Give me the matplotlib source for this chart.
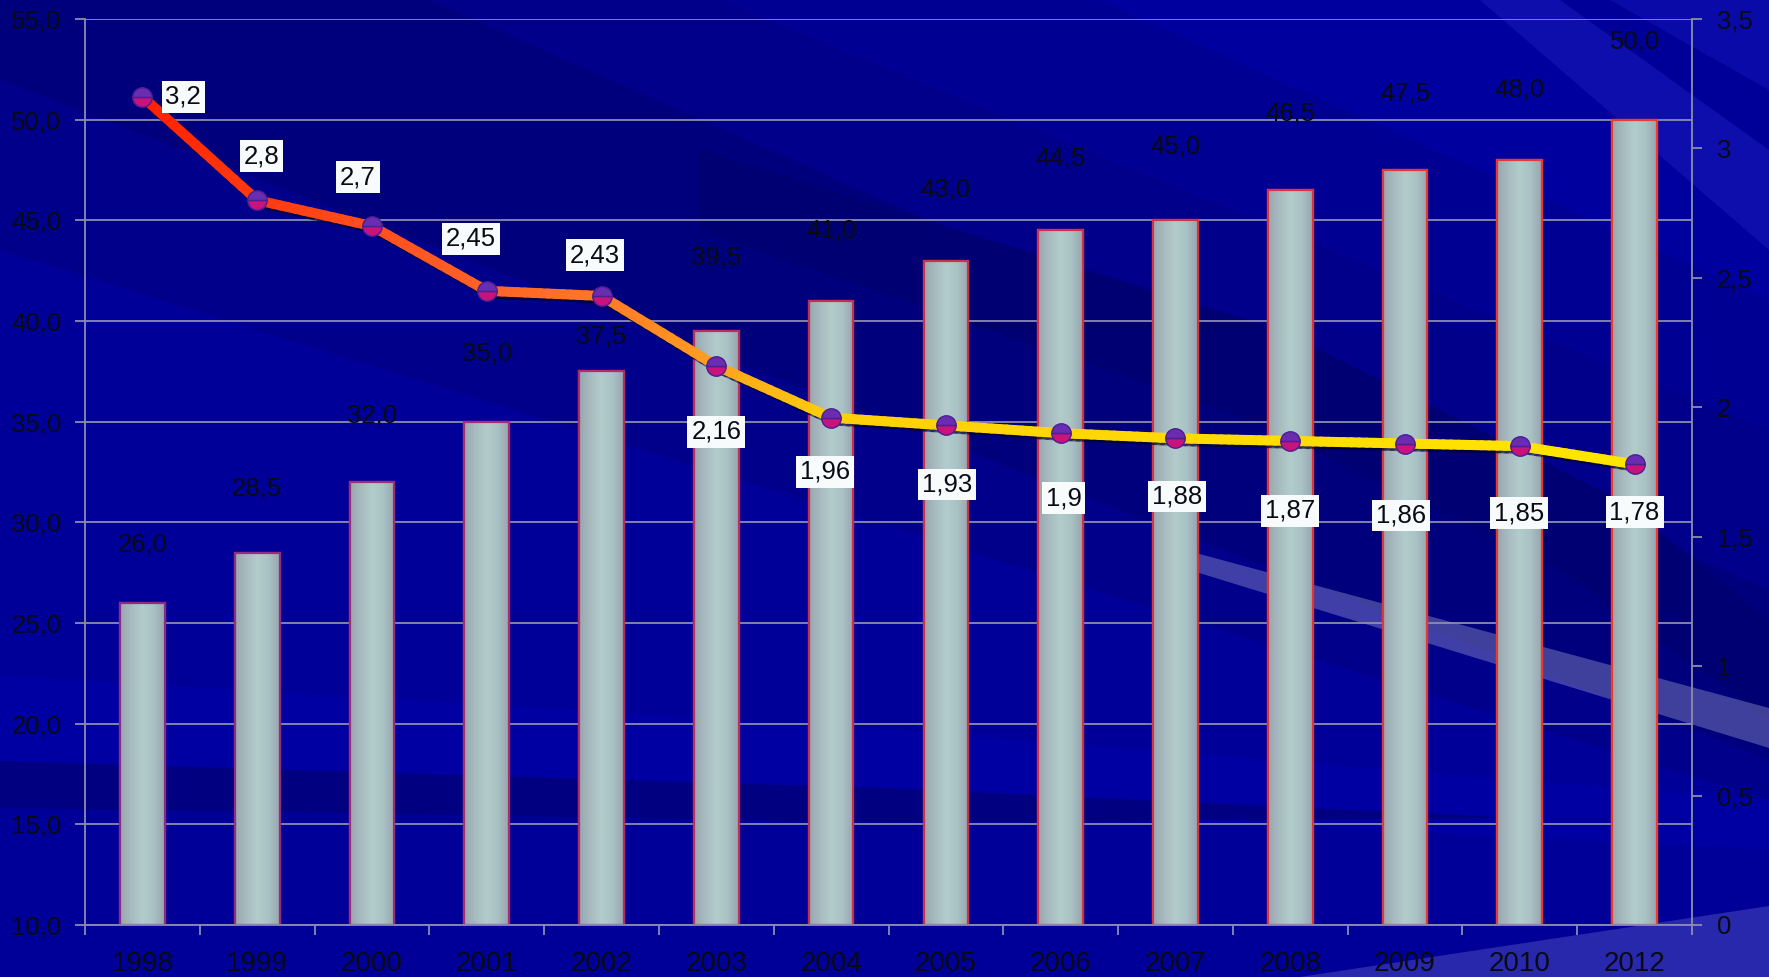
import numpy as np
import matplotlib
matplotlib.use("Agg")
import matplotlib.pyplot as plt
from matplotlib.patches import Polygon, Rectangle
from matplotlib.collections import LineCollection
from matplotlib.colors import LinearSegmentedColormap
import matplotlib.patheffects as pe

plt.rcParams['font.family'] = ['Liberation Sans', 'DejaVu Sans']

# ---------------- data ----------------
years = ['1998', '1999', '2000', '2001', '2002', '2003', '2004',
         '2005', '2006', '2007', '2008', '2009', '2010', '2012']
bar_values = [26.0, 28.5, 32.0, 35.0, 37.5, 39.5, 41.0,
              43.0, 44.5, 45.0, 46.5, 47.5, 48.0, 50.0]
line_values = [3.2, 2.8, 2.7, 2.45, 2.43, 2.16, 1.96,
               1.93, 1.9, 1.88, 1.87, 1.86, 1.85, 1.78]
left_ticks = [10, 15, 20, 25, 30, 35, 40, 45, 50, 55]
right_ticks = [0, 0.5, 1, 1.5, 2, 2.5, 3, 3.5]

# ---------------- layout / style ----------------
bar_label_dy = [42, 46, 48, 49, 25, 53, 51, 51, 52, 53, 55, 55, 51, 56]   # points
line_label_dx = [29.5, 3, -10, -11.5, -5, 0, -4.3, 0.7, 2, 1.4, 0, -3, -0.7, 0]
line_label_dy = [0, 31.7, 35.3, 37.4, 29.5, -47.5, -38.9, -42.5, -46.8,
                 -41.8, -50.4, -51.8, -48.2, -34.6]

TXT = '#0a0a14'
GRID = '#8c8cae'
FS = 18.5

W, H = 1769, 977
fig = plt.figure(figsize=(W / 100, H / 100), dpi=100)
fig.patch.set_facecolor('#000098')

# ---------------- background swooshes ----------------
bg = fig.add_axes([0, 0, 1, 1], zorder=-10)
bg.set_xlim(0, W)
bg.set_ylim(H, 0)
bg.axis('off')
bg.add_patch(Rectangle((0, 0), W, H, color='#000098'))
polys = [
    ([(0, 0), (430, 0), (1769, 590), (1769, 760), (0, 80)], '#00007c', 1),
    ([(0, 80), (1769, 760), (1769, 800), (0, 250)], '#00008a', 1),
    ([(430, 0), (720, 0), (1769, 430), (1769, 590)], '#00008a', 1),
    ([(720, 0), (1100, 0), (1769, 300), (1769, 430)], '#000092', 1),
    ([(700, 150), (1280, 330), (1620, 500), (1769, 620), (1769, 720),
      (1560, 570), (1250, 420), (700, 230)], '#000072', 1),
    ([(1100, 0), (1480, 0), (1769, 190), (1769, 300)], '#00009e', 1),
    ([(1480, 0), (1560, 0), (1769, 150), (1769, 250)], '#0e0eac', 1),
    ([(1610, 0), (1769, 0), (1769, 90)], '#0a0aa8', 1),
    ([(0, 675), (900, 730), (1769, 800), (1769, 850), (0, 761)], '#0000a2', 1),
    ([(0, 761), (885, 788), (1520, 818), (885, 822), (0, 808)], '#000080', 1),
    ([(1196, 553), (1769, 708), (1769, 748), (1196, 572)], '#ffffff', 0.25),
    ([(1300, 977), (1769, 906), (1769, 977)], '#3030b0', 0.85),
]
for pts, c, a in polys:
    bg.add_patch(Polygon(pts, closed=True, facecolor=c, edgecolor='none', alpha=a))

# ---------------- main axes ----------------
ax1 = fig.add_axes([85 / W, 1 - 925 / H, (1692 - 85) / W, (925 - 19) / H])
ax1.patch.set_visible(False)
x = np.arange(len(years))
ax1.set_xlim(-0.5, len(years) - 0.5)
ax1.set_ylim(10, 55)

ax1.set_axisbelow(True)
ax1.yaxis.grid(True, color=GRID, lw=1.3)
ax1.set_yticks(left_ticks)
ax1.set_yticklabels([f"{v:.1f}".replace('.', ',') for v in left_ticks])
ax1.set_xticks(x)
ax1.set_xticklabels(years)
ax1.set_xticks(np.arange(-0.5, len(years), 1), minor=True)
ax1.tick_params(axis='y', direction='out', length=7, width=1.3, color=GRID,
                pad=10, labelsize=FS, labelcolor=TXT)
ax1.tick_params(axis='x', which='major', length=0, pad=19, labelsize=20, labelcolor=TXT)
ax1.tick_params(axis='x', which='minor', direction='out', length=7, width=1.3, color=GRID)
for s in ['top', 'right']:
    ax1.spines[s].set_visible(False)
for s in ['left', 'bottom']:
    ax1.spines[s].set_color(GRID)
    ax1.spines[s].set_linewidth(1.3)

# bars with gradient fill
edge_cmap = LinearSegmentedColormap.from_list('e', ['#8a2c86', '#c83050', '#ee3a2a'])
grad_cmap = LinearSegmentedColormap.from_list(
    'g', ['#98a6b0', '#a8bcc0', '#b2cccc', '#a9c2c4', '#98a6b0'])
bars = ax1.bar(x, bar_values, width=0.39, bottom=0, color='#a8c2c4', zorder=2)
n = len(bars)
grad = np.linspace(0, 1, 64).reshape(1, -1)
for i, b in enumerate(bars):
    b.set_edgecolor(edge_cmap(i / (n - 1)))
    b.set_linewidth(1.6)
    x0, w = b.get_x(), b.get_width()
    im = ax1.imshow(grad, cmap=grad_cmap, aspect='auto',
                    extent=(x0, x0 + w, 10, b.get_height()), zorder=2.1)
    im.set_clip_path(b)
    ax1.add_patch(Rectangle((x0, 10), w, b.get_height() - 10, fill=False,
                            edgecolor=edge_cmap(i / (n - 1)), lw=1.6, zorder=2.2))
ax1.set_xlim(-0.5, len(years) - 0.5)
ax1.set_ylim(10, 55)

for i, v in enumerate(bar_values):
    ax1.annotate(f"{v:.1f}".replace('.', ','), (x[i], v), xytext=(0, bar_label_dy[i]),
                 textcoords='offset points', ha='center', va='center',
                 fontsize=FS, color=TXT, zorder=3)

# ---------------- secondary axis & line ----------------
ax2 = ax1.twinx()
ax2.patch.set_visible(False)
ax2.set_ylim(0, 3.5)
ax2.set_yticks(right_ticks)
ax2.set_yticklabels([f"{v:g}".replace('.', ',') for v in right_ticks])
ax2.tick_params(axis='y', direction='out', length=7, width=1.3, color=GRID,
                pad=11, labelsize=FS, labelcolor=TXT)
for s in ['top', 'left', 'bottom']:
    ax2.spines[s].set_visible(False)
ax2.spines['right'].set_color(GRID)
ax2.spines['right'].set_linewidth(1.3)

line_cmap = LinearSegmentedColormap.from_list('l', [
    (0.0, '#ff2000'), (1 / 13, '#ff3a10'), (3 / 13, '#ff6228'), (4 / 13, '#ff7826'),
    (5 / 13, '#ffa020'), (6 / 13, '#ffcf0a'), (1.0, '#ffe600')])
segs, cols = [], []
xs = x.astype(float)
ys = np.array(line_values)
for i in range(len(xs) - 1):
    for t0 in np.linspace(0, 1, 16)[:-1]:
        t1 = t0 + 1 / 15
        pa = (xs[i] + (xs[i + 1] - xs[i]) * t0, ys[i] + (ys[i + 1] - ys[i]) * t0)
        pb = (xs[i] + (xs[i + 1] - xs[i]) * t1, ys[i] + (ys[i + 1] - ys[i]) * t1)
        segs.append([pa, pb])
        cols.append(line_cmap(((pa[0] + pb[0]) / 2) / (len(xs) - 1)))
lc = LineCollection(segs, colors=cols, linewidths=7.2, capstyle='round',
                    joinstyle='round', zorder=4)
lc.set_path_effects([pe.SimpleLineShadow(offset=(1.5, -2), shadow_color='#000030', alpha=0.5),
                     pe.Normal()])
ax2.add_collection(lc)
ax2.plot(xs, ys, linestyle='none', marker='o', markersize=14, fillstyle='bottom',
         markerfacecolor='#c8127c', markerfacecoloralt='#6a2cb0',
         markeredgecolor='#4a2090', markeredgewidth=1.0, zorder=5)

for i, v in enumerate(line_values):
    ax2.annotate(f"{v:g}".replace('.', ','), (xs[i], v),
                 xytext=(line_label_dx[i], line_label_dy[i]), textcoords='offset points',
                 ha='center', va='center', fontsize=FS, color=TXT, zorder=6,
                 bbox=dict(boxstyle='square,pad=0.15', facecolor='#f8fbfb',
                           edgecolor='none'))

fig.savefig('out.png', dpi=100, facecolor=fig.get_facecolor())
